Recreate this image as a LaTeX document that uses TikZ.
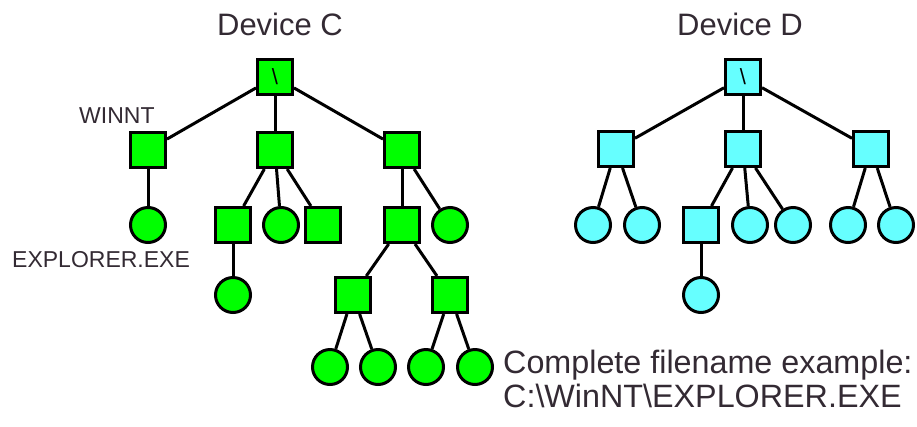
\documentclass[tikz,border=0pt]{standalone}
\usepackage{fontspec}
\setmainfont{Liberation Sans}
\usetikzlibrary{positioning}
\definecolor{devc}{HTML}{00FF00}
\definecolor{devd}{HTML}{66FFFF}
\definecolor{ink}{HTML}{332A33}

\begin{document}
\begin{tikzpicture}[
      x=1pt, y=-1pt,
      folder/.style={draw, line width=3pt, minimum size=35pt, inner sep=0pt},
      docfile/.style={draw, circle, line width=3pt, minimum size=35pt, inner sep=0pt},
      link/.style={line width=3pt},
      title/.style={font=\fontsize{31}{34}\selectfont, text=ink, inner sep=0pt, anchor=base},
      label/.style={font=\fontsize{23}{26}\selectfont, text=ink, inner sep=0pt, anchor=base west}
    ]
      \useasboundingbox (0,0) rectangle (917,426);

      % Device C
      \node[title] (titleC) at (280,35) {Device C};
      \node[folder, fill=devc, font=\fontsize{22}{22}\selectfont] (rootC) at (275,77) {\textbackslash};
      \node[folder, fill=devc] (winnt) at (148,150) {};
      \node[folder, fill=devc] (c2) at (275,150) {};
      \node[folder, fill=devc] (c3) at (402,150) {};
      \node[docfile, fill=devc] (explorer) at (148,225) {};
      \node[folder, fill=devc] (c21) at (233,225) {};
      \node[docfile, fill=devc] (c22) at (281,225) {};
      \node[folder, fill=devc] (c23) at (323,225) {};
      \node[docfile, fill=devc] (c211) at (233,295) {};
      \node[folder, fill=devc] (c31) at (402,225) {};
      \node[docfile, fill=devc] (c32) at (450,225) {};
      \node[folder, fill=devc] (c311) at (353,295) {};
      \node[folder, fill=devc] (c312) at (450,295) {};
      \node[docfile, fill=devc] (c3111) at (330,367) {};
      \node[docfile, fill=devc] (c3112) at (378,367) {};
      \node[docfile, fill=devc] (c3121) at (426,367) {};
      \node[docfile, fill=devc] (c3122) at (475,367) {};

      \node[label] (winntname) at (79,123) {WINNT};
      \node[label] (exename) at (12,267) {EXPLORER.EXE};

      \draw[link] (rootC) -- (winnt);
      \draw[link] (rootC) -- (c2);
      \draw[link] (rootC) -- (c3);
      \draw[link] (winnt) -- (explorer);
      \draw[link] (c2) -- (c21);
      \draw[link] (c2) -- (c22);
      \draw[link] (c2) -- (c23);
      \draw[link] (c21) -- (c211);
      \draw[link] (c3) -- (c31);
      \draw[link] (c3) -- (c32);
      \draw[link] (c31) -- (c311);
      \draw[link] (c31) -- (c312);
      \draw[link] (c311) -- (c3111);
      \draw[link] (c311) -- (c3112);
      \draw[link] (c312) -- (c3121);
      \draw[link] (c312) -- (c3122);

      % Device D
      \node[title] (titleD) at (740,35) {Device D};
      \node[folder, fill=devd, font=\fontsize{22}{22}\selectfont] (rootD) at (743,77) {\textbackslash};
      \node[folder, fill=devd] (d1) at (616,149) {};
      \node[folder, fill=devd] (d2) at (743,149) {};
      \node[folder, fill=devd] (d3) at (871,149) {};
      \node[docfile, fill=devd] (d11) at (593,225) {};
      \node[docfile, fill=devd] (d12) at (642,225) {};
      \node[folder, fill=devd] (d21) at (701,225) {};
      \node[docfile, fill=devd] (d22) at (750,225) {};
      \node[docfile, fill=devd] (d23) at (793,225) {};
      \node[docfile, fill=devd] (d211) at (701,295) {};
      \node[docfile, fill=devd] (d31) at (848,225) {};
      \node[docfile, fill=devd] (d32) at (896,225) {};

      \draw[link] (rootD) -- (d1);
      \draw[link] (rootD) -- (d2);
      \draw[link] (rootD) -- (d3);
      \draw[link] (d1) -- (d11);
      \draw[link] (d1) -- (d12);
      \draw[link] (d2) -- (d21);
      \draw[link] (d2) -- (d22);
      \draw[link] (d2) -- (d23);
      \draw[link] (d21) -- (d211);
      \draw[link] (d3) -- (d31);
      \draw[link] (d3) -- (d32);

      % Path note
      \node[label, font=\fontsize{32.3}{35}\selectfont] (note1) at (503,373) {Complete filename example:};
      \node[label, font=\fontsize{32.3}{35}\selectfont] (note2) at (503,407) {C:\textbackslash WinNT\textbackslash EXPLORER.EXE};
    \end{tikzpicture}
\end{document}
